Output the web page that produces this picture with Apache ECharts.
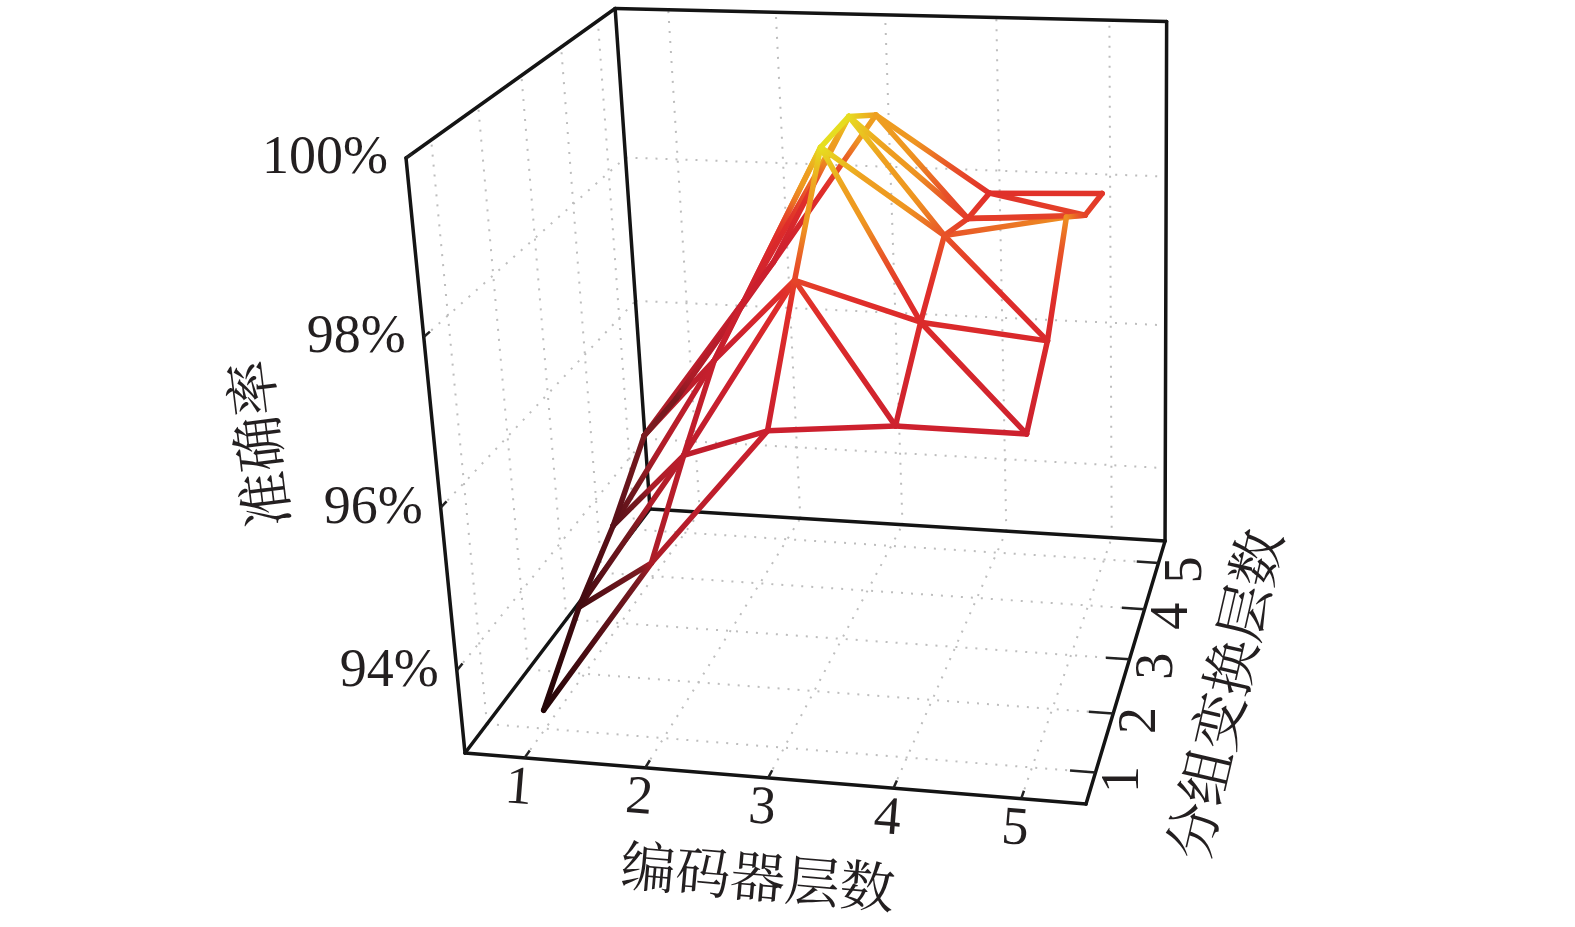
<!DOCTYPE html>
<html><head><meta charset="utf-8">
<style>html,body{margin:0;padding:0;background:#fff}#c{width:1575px;height:927px}</style>
<script src="https://cdn.jsdelivr.net/npm/echarts@6/dist/echarts.min.js"></script>
</head><body><div id="c"></div>
<script>
// ---- data ----
const encoderLayers = [1, 2, 3, 4, 5];
const groupLayers = [1, 2, 3, 4, 5];
const accuracyTicks = [94, 96, 98, 100];
const accuracyTickLabels = ['94%', '96%', '98%', '100%'];
// accuracy (%) per encoder layer; each row runs over group-transform layers 1..5
const accEncoder1 = [93.19, 93.84, 94.29, 94.93, 94.90];
const accEncoder2 = [95.16, 95.89, 96.55, 96.83, 96.87];
const accEncoder3 = [96.84, 98.10, 99.25, 99.24, 98.88];
const accEncoder4 = [96.98, 97.67, 98.24, 98.01, 97.91];
const accEncoder5 = [96.97, 97.52, 98.52, 98.11, 97.96];
const accuracy = [accEncoder1, accEncoder2, accEncoder3, accEncoder4, accEncoder5];
const xName = '编码器层数', yName = '分组变换层数', zName = '准确率';

// ---- axis scales ----
const xRange = [0.5, 5.5], yRange = [0.5, 5.5], zRange = [92.95, 100];
// ---- camera: perspective projection of the unit box onto the page ----
const cam = {
  o: [465, 753], x: [1086, 804], y: [650, 509], z: [406, 158],
  w: [-0.04635, 0.2128, -0.08]
};
const A = [0, 1].map(k => [
  cam.x[k] * (1 + cam.w[0]) - cam.o[k],
  cam.y[k] * (1 + cam.w[1]) - cam.o[k],
  cam.z[k] * (1 + cam.w[2]) - cam.o[k]
]);
function norm(v, r) { return (v - r[0]) / (r[1] - r[0]); }
function projN(X, Y, Z) {
  const d = 1 + cam.w[0] * X + cam.w[1] * Y + cam.w[2] * Z;
  return [0, 1].map(k => (cam.o[k] + A[k][0] * X + A[k][1] * Y + A[k][2] * Z) / d);
}
function proj(x, y, z) { return projN(norm(x, xRange), norm(y, yRange), norm(z, zRange)); }

// ---- colour scale over accuracy ----
const cmap = [
  [93.2, [34, 5, 6]], [94.3, [90, 16, 24]], [94.95, [122, 26, 32]], [95.15, [172, 28, 40]], [96, [190, 30, 44]],
  [96.9, [204, 32, 46]], [97.9, [224, 46, 42]], [98.25, [232, 84, 40]], [98.55, [238, 150, 32]],
  [98.9, [238, 160, 32]], [99.25, [230, 222, 32]]
];
function color(v) {
  if (v <= cmap[0][0]) return 'rgb(' + cmap[0][1] + ')';
  for (let i = 1; i < cmap.length; i++) {
    if (v <= cmap[i][0]) {
      const t = (v - cmap[i - 1][0]) / (cmap[i][0] - cmap[i - 1][0]);
      return 'rgb(' + cmap[i][1].map((c, k) => Math.round(cmap[i - 1][1][k] + (c - cmap[i - 1][1][k]) * t)) + ')';
    }
  }
  return 'rgb(' + cmap[cmap.length - 1][1] + ')';
}

// ---- derived series tables ----
const gridSegs = [];   // normalized X,Y,Z start + end
const zN = accuracyTicks.map(t => norm(t, zRange));
const xN = encoderLayers.map(t => norm(t, xRange));
const yN = groupLayers.map(t => norm(t, yRange));
xN.forEach(X => { gridSegs.push([X, 0, 0, X, 1, 0]); gridSegs.push([X, 1, 0, X, 1, 1]); });
yN.forEach(Y => { gridSegs.push([0, Y, 0, 1, Y, 0]); gridSegs.push([0, Y, 0, 0, Y, 1]); });
zN.slice(0, 3).forEach(Z => { gridSegs.push([0, 0, Z, 0, 1, Z]); gridSegs.push([0, 1, Z, 1, 1, Z]); });

const boxSegs = [
  [0,1,0,1,1,0],[0,0,0,0,1,0],[1,0,0,1,1,0],[0,0,0,1,0,0],
  [0,0,0,0,0,1],[0,1,0,0,1,1],[1,1,0,1,1,1],[0,0,1,0,1,1],[0,1,1,1,1,1]
];
const tickSegs = [];
xN.forEach(X => tickSegs.push([X, 0, 0, X, 0.025, 0]));
yN.forEach(Y => tickSegs.push([1, Y, 0, 0.96, Y, 0]));
zN.forEach(Z => tickSegs.push([0, 0, Z, 0, 0.025, Z]));

const edges = [];
for (let i = 0; i < 5; i++) for (let j = 0; j < 5; j++) {
  if (i < 4) edges.push([i, j, i + 1, j]);
  if (j < 4) edges.push([i, j, i, j + 1]);
  if (i < 4 && j < 4) edges.push([i, j + 1, i + 1, j]);
}

function segSeries(segs, style) {
  return {
    type: 'custom', coordinateSystem: 'none', silent: true, animation: false, clip: false,
    data: segs,
    renderItem: (p, api) => {
      const a = projN(api.value(0), api.value(1), api.value(2));
      const b = projN(api.value(3), api.value(4), api.value(5));
      return { type: 'line', shape: { x1: a[0], y1: a[1], x2: b[0], y2: b[1] }, style: style, silent: true };
    }
  };
}
function textEl(text, x, y, rotDeg, size, family, align) {
  return {
    type: 'text', x: x, y: y, rotation: rotDeg * Math.PI / 180, silent: true,
    style: { text: text, fontSize: size, fontFamily: family, fill: '#231f20', align: align || 'center', verticalAlign: 'middle' }
  };
}
const SERIF = '"Liberation Serif", serif';
const CJK = '"Noto Serif CJK SC", "Noto Sans CJK SC", sans-serif';
const labels = [];
encoderLayers.forEach(v => { const p = proj(v, yRange[0], zRange[0]); labels.push([String(v), p[0] - 6, p[1] + 31, -4.7, 54, SERIF, 'center']); });
groupLayers.forEach(v => { const p = proj(xRange[1], v, zRange[0]); labels.push([String(v), p[0] + 28, p[1] + 7, 90, 54, SERIF, 'center']); });
accuracyTicks.forEach((v, i) => { const p = proj(xRange[0], yRange[0], v); labels.push([accuracyTickLabels[i], p[0] - 18, p[1] + 1, 0, 54, SERIF, 'right']); });
labels.push([xName, 758, 876, -5, 55, CJK, 'center']);
labels.push([yName, 1224, 694, 77, 56, CJK, 'center']);
labels.push([zName, 258, 444, 97, 56, CJK, 'center']);

const chart = echarts.init(document.getElementById('c'), null, { renderer: 'canvas' });
chart.setOption({
  backgroundColor: '#ffffff',
  animation: false,
  series: [
    segSeries(gridSegs, { stroke: '#bdbdbd', lineWidth: 2, lineDash: [2, 8] }),
    segSeries(boxSegs, { stroke: '#141414', lineWidth: 3.5, lineCap: 'round' }),
    segSeries(tickSegs, { stroke: '#222', lineWidth: 2.5 }),
    {
      type: 'custom', coordinateSystem: 'none', silent: true, animation: false, clip: false,
      data: edges,
      renderItem: (p, api) => {
        const i = api.value(0), j = api.value(1), k = api.value(2), l = api.value(3);
        const v1 = accuracy[i][j], v2 = accuracy[k][l];
        const a = proj(encoderLayers[i], groupLayers[j], v1);
        const b = proj(encoderLayers[k], groupLayers[l], v2);
        const stops = [];
        for (let s = 0; s <= 12; s++) stops.push({ offset: s / 12, color: color(v1 + (v2 - v1) * s / 12) });
        return {
          type: 'line', silent: true,
          shape: { x1: a[0], y1: a[1], x2: b[0], y2: b[1] },
          style: {
            lineWidth: 5.5, lineCap: 'round',
            stroke: new echarts.graphic.LinearGradient(a[0], a[1], b[0] + 0.01, b[1] + 0.01, stops, true)
          }
        };
      }
    },
    {
      type: 'custom', coordinateSystem: 'none', silent: true, animation: false, clip: false,
      data: labels.map((l, i) => [i]),
      renderItem: (p) => {
        const l = labels[p.dataIndex];
        return textEl(l[0], l[1], l[2], l[3], l[4], l[5], l[6]);
      }
    }
  ]
});
</script></body></html>
